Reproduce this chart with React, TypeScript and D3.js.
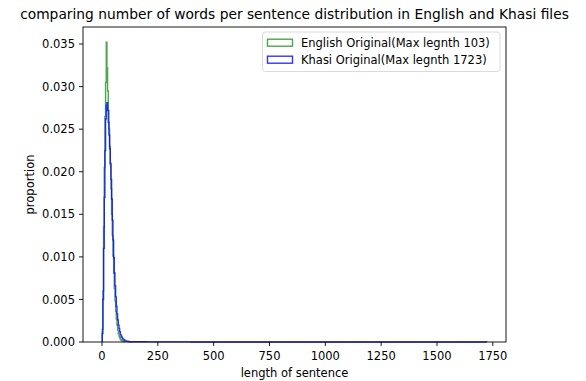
import { useEffect, useRef } from 'react'
import * as d3 from 'd3'

// histogram bins: first edge, bin width, densities per bin
const englishStart = 1
const englishWidth = 3
const englishDensity = [
  0.0015, 0.006, 0.0135, 0.0205, 0.0265, 0.0305, 0.0352, 0.0322, 0.0295, 0.0272,
  0.025, 0.023, 0.0208, 0.018, 0.015, 0.0125, 0.0101, 0.0081, 0.0063, 0.0048,
  0.0036, 0.0027, 0.002, 0.0014, 0.001, 0.0007, 0.0005, 0.0003, 0.0002, 0.00015,
  0.0001, 0.00006, 0.00004, 0.00002,
]

const khasiStart = 1
const khasiWidth = 3
const khasiDensity = [
  0.001, 0.005, 0.011, 0.017, 0.0225, 0.0262, 0.0278, 0.0281, 0.0272, 0.0258,
  0.0243, 0.0227, 0.021, 0.0191, 0.0168, 0.0143, 0.012, 0.0099, 0.0081, 0.0066,
  0.0053, 0.0042, 0.0033, 0.0026, 0.002, 0.0016, 0.0012, 0.0009, 0.0007, 0.00055,
  0.00042, 0.00033, 0.00026, 0.0002, 0.00016, 0.00012, 0.0001, 0.00008, 0.00006, 0.00005,
]
// sparse long tail of the Khasi distribution
const khasiTailEdges = [121, 200, 400, 800, 1200, 1723]
const khasiTailDensity = [0.00003, 0.00001, 0.000005, 0.000002, 0.000001]

const xTicks = [0, 250, 500, 750, 1000, 1250, 1500, 1750]
const yTicks = [0, 0.005, 0.01, 0.015, 0.02, 0.025, 0.03, 0.035]

const legendLabels = ['English Original(Max legnth 103)', 'Khasi Original(Max legnth 1723)']
const seriesColors = ['#008000', '#0000ff']

const title = 'comparing number of words per sentence distribution in English and Khasi files'

function stepPoints(edges: number[], values: number[]) {
  const pts: [number, number][] = [[edges[0], 0]]
  values.forEach((v, i) => {
    pts.push([edges[i], v])
    pts.push([edges[i + 1], v])
  })
  pts.push([edges[edges.length - 1], 0])
  return pts
}

function App() {
  const ref = useRef<SVGSVGElement>(null)

  useEffect(() => {
    document.body.style.margin = '0'
    const width = 586
    const height = 381
    const left = 83
    const right = 506
    const top = 27
    const bottom = 342
    const font = 'DejaVu Sans, sans-serif'
    const fs = 11.5

    const svg = d3.select(ref.current)
    svg.selectAll('*').remove()
    svg.attr('width', width).attr('height', height)

    const xMin = 1
    const xMax = 1723
    const pad = (xMax - xMin) * 0.05
    const x = d3.scaleLinear().domain([xMin - pad, xMax + pad]).range([left, right])
    const y = d3.scaleLinear().domain([0, 0.037]).range([bottom, top])

    const line = d3
      .line<[number, number]>()
      .x((d) => x(d[0]))
      .y((d) => y(d[1]))

    const engEdges = d3.range(englishDensity.length + 1).map((i) => englishStart + i * englishWidth)
    const khaEdges = d3.range(khasiDensity.length + 1).map((i) => khasiStart + i * khasiWidth)
    const engPts = stepPoints(engEdges, englishDensity)
    const khaMain = stepPoints(khaEdges, khasiDensity)
    const khaTail = stepPoints(khasiTailEdges, khasiTailDensity)
    const khaPts = [...khaMain.slice(0, -1), ...khaTail.slice(1)]

    const g = svg.append('g')

    g.append('path')
      .attr('d', line(engPts))
      .attr('fill', 'none')
      .attr('stroke', seriesColors[0])
      .attr('stroke-opacity', 0.7)
      .attr('stroke-width', 1.4)

    g.append('path')
      .attr('d', line(khaPts))
      .attr('fill', 'none')
      .attr('stroke', seriesColors[1])
      .attr('stroke-opacity', 0.8)
      .attr('stroke-width', 1.4)

    // spines
    g.append('rect')
      .attr('x', left)
      .attr('y', top)
      .attr('width', right - left)
      .attr('height', bottom - top)
      .attr('fill', 'none')
      .attr('stroke', '#000')
      .attr('stroke-width', 0.9)

    const xAxis = g.append('g')
    xTicks.forEach((t) => {
      const px = x(t)
      xAxis.append('line')
        .attr('x1', px).attr('x2', px)
        .attr('y1', bottom).attr('y2', bottom + 4)
        .attr('stroke', '#000').attr('stroke-width', 0.9)
      xAxis.append('text')
        .attr('x', px).attr('y', bottom + 18)
        .attr('text-anchor', 'middle')
        .attr('font-family', font).attr('font-size', fs)
        .attr('fill', '#000')
        .text(String(t))
    })

    const yAxis = g.append('g')
    const fmt = d3.format('.3f')
    yTicks.forEach((t) => {
      const py = y(t)
      yAxis.append('line')
        .attr('x1', left - 4).attr('x2', left)
        .attr('y1', py).attr('y2', py)
        .attr('stroke', '#000').attr('stroke-width', 0.9)
      yAxis.append('text')
        .attr('x', left - 8).attr('y', py)
        .attr('dy', '0.36em')
        .attr('text-anchor', 'end')
        .attr('font-family', font).attr('font-size', fs)
        .attr('fill', '#000')
        .text(fmt(t))
    })

    svg.append('text')
      .attr('x', (left + right) / 2).attr('y', 377)
      .attr('text-anchor', 'middle')
      .attr('font-family', font).attr('font-size', fs)
      .text('length of sentence')

    svg.append('text')
      .attr('transform', `translate(34,${(top + bottom) / 2}) rotate(-90)`)
      .attr('text-anchor', 'middle')
      .attr('font-family', font).attr('font-size', fs)
      .text('proportion')

    svg.append('text')
      .attr('x', (left + right) / 2).attr('y', 19)
      .attr('text-anchor', 'middle')
      .attr('font-family', font).attr('font-size', 13.8)
      .text(title)

    // legend
    const lg = svg.append('g')
    lg.append('rect')
      .attr('x', 262.5).attr('y', 32)
      .attr('width', 237.5).attr('height', 39.5)
      .attr('rx', 3)
      .attr('fill', '#fff').attr('fill-opacity', 0.8)
      .attr('stroke', '#d6d6d6').attr('stroke-width', 0.9)
    legendLabels.forEach((label, i) => {
      const cy = 42.7 + i * 17
      lg.append('rect')
        .attr('x', 267.5).attr('y', cy - 3.5)
        .attr('width', 25).attr('height', 7)
        .attr('fill', 'none')
        .attr('stroke', seriesColors[i])
        .attr('stroke-opacity', i === 0 ? 0.7 : 0.8)
        .attr('stroke-width', 1.4)
      lg.append('text')
        .attr('x', 301).attr('y', cy)
        .attr('dy', '0.36em')
        .attr('font-family', font).attr('font-size', fs)
        .text(label)
    })
  }, [])

  return <svg ref={ref} style={{ display: 'block' }} />
}

export default App
